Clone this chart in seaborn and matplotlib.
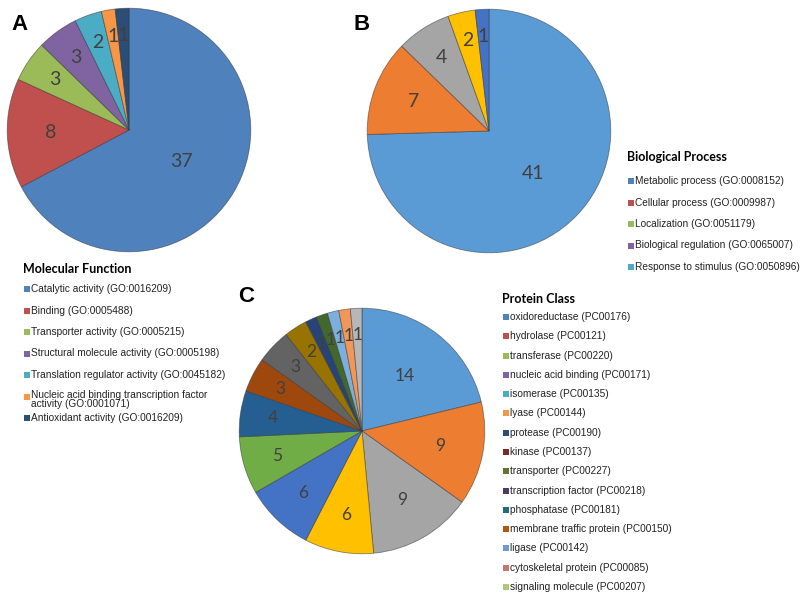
import matplotlib
matplotlib.use("Agg")
import matplotlib.pyplot as plt
from matplotlib.patches import Rectangle
import seaborn as sns
import numpy as np

# ---------------- data ----------------
mf_labels = ["Catalytic activity (GO:0016209)",
             "Binding (GO:0005488)",
             "Transporter activity (GO:0005215)",
             "Structural molecule activity (GO:0005198)",
             "Translation regulator activity (GO:0045182)",
             "Nucleic acid binding transcription factor\nactivity (GO:0001071)",
             "Antioxidant activity (GO:0016209)"]
mf_values = [37, 8, 3, 3, 2, 1, 1]

bp_labels = ["Metabolic process (GO:0008152)",
             "Cellular process (GO:0009987)",
             "Localization (GO:0051179)",
             "Biological regulation (GO:0065007)",
             "Response to stimulus (GO:0050896)"]
bp_values = [41, 7, 4, 2, 1]

pc_labels = ["oxidoreductase (PC00176)", "hydrolase (PC00121)", "transferase (PC00220)",
             "nucleic acid binding (PC00171)", "isomerase (PC00135)", "lyase (PC00144)",
             "protease (PC00190)", "kinase (PC00137)", "transporter (PC00227)",
             "transcription factor (PC00218)", "phosphatase (PC00181)",
             "membrane traffic protein (PC00150)", "ligase (PC00142)",
             "cytoskeletal protein (PC00085)", "signaling molecule (PC00207)"]
pc_values = [14, 9, 9, 6, 6, 5, 4, 3, 3, 2, 1, 1, 1, 1, 1]

# ---------------- colours ----------------
office2007 = ["#4F81BD", "#C0504D", "#9BBB59", "#8064A2", "#4BACC6", "#F79646",
              "#2C4D75", "#772C2A", "#5F7530", "#4D3B62", "#276A7C", "#B65708",
              "#729ACA", "#CD7371", "#AFC97A"]
office2013 = ["#5B9BD5", "#ED7D31", "#A5A5A5", "#FFC000", "#4472C4", "#70AD47",
              "#255E91", "#9E480E", "#636363", "#997300", "#264478", "#43682B",
              "#7CAFDD", "#F1975A", "#B7B7B7"]

sns.set_theme(style="white")
plt.rcParams["font.family"] = ["Liberation Sans", "DejaVu Sans"]

W, H = 800, 600
fig = plt.figure(figsize=(8, 6), dpi=100)
fig.patch.set_facecolor("white")


def fx(x):
    return x / W


def fy(y):
    return 1 - y / H


def draw_pie(values, colors, cx, cy, r, fs):
    ax = fig.add_axes([fx(cx - r), fy(cy + r), 2 * r / W, 2 * r / H])
    pal = sns.color_palette(colors, len(values))
    wedges, _ = ax.pie(values, colors=pal, startangle=90, counterclock=False,
                       radius=1.0,
                       wedgeprops=dict(edgecolor=(0.2, 0.2, 0.2, 0.55), linewidth=0.6))
    total = float(sum(values))
    for w, v in zip(wedges, values):
        share = v / total
        theta = np.deg2rad((w.theta1 + w.theta2) / 2)
        rl = max(0.5, 0.8 - 1.1 * share)
        ax.text(rl * np.cos(theta), rl * np.sin(theta), str(v), ha="center",
                va="center", fontsize=fs, color="#404040", family=["Lato", "DejaVu Sans"])
    ax.set_xlim(-1.01, 1.01)
    ax.set_ylim(-1.01, 1.01)
    ax.axis("off")
    return ax


draw_pie(mf_values, office2007[:7], 129, 130, 123, 14)
draw_pie(bp_values, office2013[:5], 489, 131, 123, 14)
draw_pie(pc_values, office2013, 362, 431, 124, 12.5)

# panel letters
for letter, (x, y) in zip(["A", "B", "C"], [(19, 25), (362, 24), (246, 297)]):
    fig.text(fx(x), fy(y), letter, fontsize=16, fontweight="bold", ha="center",
             va="center", color="black")


def draw_legend(title, labels, colors, x0, ty, y0, step):
    fig.text(fx(x0), fy(ty), title, fontsize=9, fontweight="bold",
             family=["Lato", "DejaVu Sans"], ha="left", va="center", color="black")
    for i, (lab, col) in enumerate(zip(labels, colors)):
        y = y0 + i * step
        fig.add_artist(Rectangle((fx(x0 + 1), fy(y + 3)), 6 / W, 6 / H,
                                 transform=fig.transFigure, facecolor=col,
                                 edgecolor="none"))
        if "\n" in lab:
            fig.text(fx(x0 + 8), fy(y - 6.5), lab, fontsize=7.3, ha="left",
                     va="top", color="#222222", linespacing=0.92)
        else:
            fig.text(fx(x0 + 8), fy(y), lab, fontsize=7.3, ha="left",
                     va="center", color="#222222")


draw_legend("Molecular Function", mf_labels, office2007[:7], 23, 269, 289, 21.5)
draw_legend("Biological Process", bp_labels, office2007[:5], 627, 157, 181, 21.5)
draw_legend("Protein Class", pc_labels, office2007, 502, 299, 317, 19.29)

fig.savefig("out.png", dpi=100, facecolor="white")
